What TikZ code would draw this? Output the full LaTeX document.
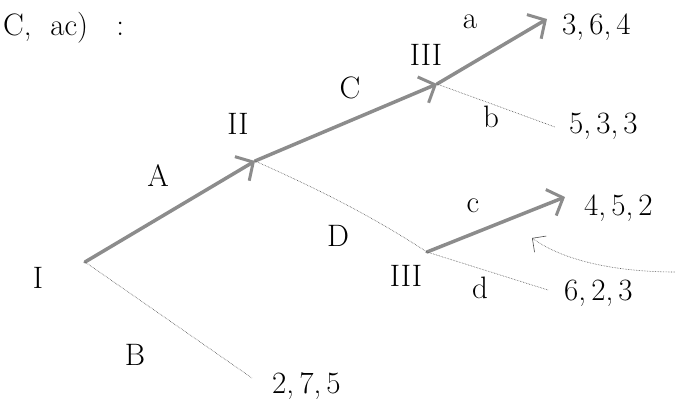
\documentclass[tikz,border=0pt]{standalone}
\usetikzlibrary{arrows.meta}
\begin{document}
\begin{tikzpicture}[x=1pt,y=-1pt,
  lbl/.style={font=\fontsize{31}{33}\selectfont, inner sep=1pt},
  best/.style={draw=black!45, line width=3.5pt, line cap=round, -{Straight Barb[length=13pt,width=28pt,line width=3pt]}},
  other/.style={draw=black!70, line width=0.6pt, densely dotted}]
\useasboundingbox (0,0) rectangle (675,408);
% decision nodes
\coordinate (n1) at (85,262);
\coordinate (n2) at (255,161);
\coordinate (n3) at (437,84);
\coordinate (n4) at (427,252);
% ends
\coordinate (e1) at (547,19);
\coordinate (e2) at (555,127);
\coordinate (e3) at (565,197);
\coordinate (e4) at (548,290);
\coordinate (e5) at (252,378);
\coordinate (p1) at (675,272);
\coordinate (p2) at (532,238);
% player labels
\node[lbl] (L1) at (38,278) {I};
\node[lbl] (L2) at (238,124) {II};
\node[lbl] (L3) at (426,55) {III};
\node[lbl] (L4) at (406,276) {III};
% payoffs
\node[lbl,anchor=west] (P1) at (561,27) {3,\,6,\,4};
\node[lbl,anchor=west] (P2) at (568,126) {5,\,3,\,3};
\node[lbl,anchor=west] (P3) at (583,208) {4,\,5,\,2};
\node[lbl,anchor=west] (P4) at (563,293) {6,\,2,\,3};
\node[lbl,anchor=west] (P5) at (271,386) {2,\,7,\,5};
% action labels
\node[lbl] (A) at (158,176) {A};
\node[lbl] (B) at (135,355) {B};
\node[lbl] (C) at (350,88) {C};
\node[lbl] (D) at (338,236) {D};
\node[lbl] (a) at (470,22) {a};
\node[lbl] (b) at (491,117) {b};
\node[lbl] (c) at (473,206) {c};
\node[lbl] (d) at (480,288) {d};
% heading fragment
\node[lbl,anchor=west] (H) at (2,28) {C,\ \ ac)\ \ \ :};
% edges
\draw[best] (n1) -- (n2);
\draw[best] (n2) -- (n3);
\draw[best] (n3) -- (e1);
\draw[best] (n4) -- (e3);
\draw[other] (n1) -- (e5);
\draw[other] (n2) .. controls (320,190) and (370,215) .. (n4);
\draw[other] (n3) -- (e2);
\draw[other] (n4) -- (e4);
\draw[other, -{Straight Barb[length=10pt,width=20pt]}] (p1) .. controls (620,272) and (565,262) .. (p2);
\end{tikzpicture}
\end{document}
